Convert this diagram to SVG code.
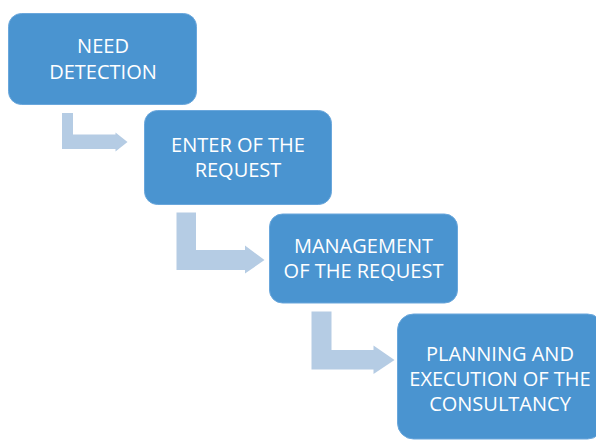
<svg xmlns="http://www.w3.org/2000/svg" width="596" height="440" viewBox="0 0 596 440">
  <style>
    .box { fill: #4a94d0; stroke: #6aa7dc; stroke-width: 1; }
    .step { fill: #b5cce4; }
    .label { font-family: "Open Sans", "Liberation Sans", sans-serif; font-size: 20px; fill: #ffffff; text-anchor: middle; }
  </style>
  <rect width="596" height="440" fill="#ffffff"/>

  <!-- bent step arrows between the stages -->
  <g id="connectors">
    <path class="step" d="M62,113 H73 V134.5 H115.5 V132.5 L127.5,142 L115.5,151.5 V149 H62 Z"/>
    <path class="step" d="M176.5,212.5 H196 V250 H245 V245.5 L264.5,260 L245,273.5 V270 H176.5 Z"/>
    <path class="step" d="M311.5,311.5 H331.5 V350 H373.5 V345.5 L394.5,360 L373.5,374 V369.5 H311.5 Z"/>
  </g>

  <g id="need-detection">
    <rect class="box" x="8.5" y="13.5" width="188" height="91" rx="13"/>
    <text class="label" x="103" y="52.5">NEED</text>
    <text class="label" x="103" y="79">DETECTION</text>
  </g>

  <g id="enter-request">
    <rect class="box" x="144.5" y="110.5" width="187" height="94" rx="13"/>
    <text class="label" x="238" y="151.5">ENTER OF THE</text>
    <text class="label" x="238" y="176.5">REQUEST</text>
  </g>

  <g id="management-request">
    <rect class="box" x="269.5" y="214" width="188" height="89" rx="13"/>
    <text class="label" x="363.5" y="253">MANAGEMENT</text>
    <text class="label" x="363.5" y="278">OF THE REQUEST</text>
  </g>

  <g id="planning-execution">
    <rect class="box" x="397.5" y="314" width="206" height="125" rx="16"/>
    <text class="label" x="500" y="360.5">PLANNING AND</text>
    <text class="label" x="500" y="385.5">EXECUTION OF THE</text>
    <text class="label" x="500" y="410.5">CONSULTANCY</text>
  </g>
</svg>
